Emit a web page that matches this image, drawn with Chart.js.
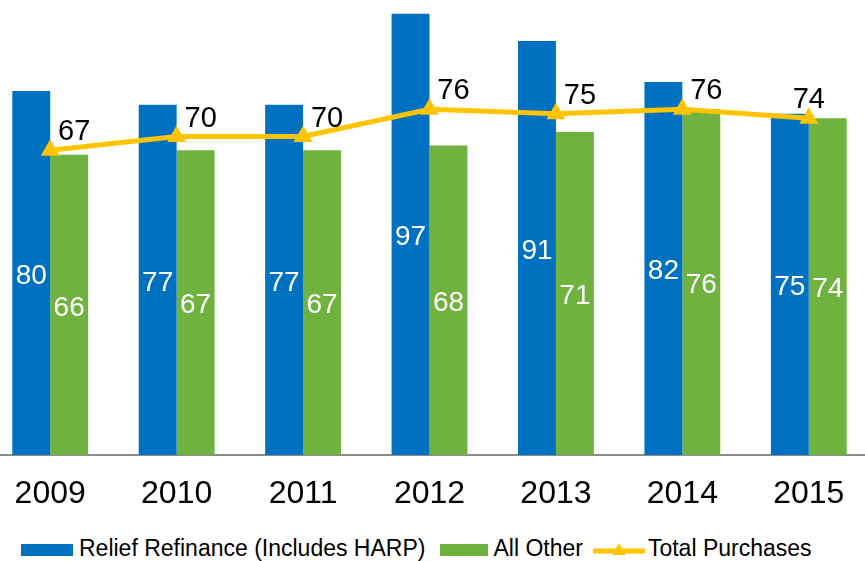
<!DOCTYPE html>
<html>
<head>
<meta charset="utf-8">
<script src="https://cdn.jsdelivr.net/npm/chart.js@4"></script>
<style>
  body { margin: 0; background: #fff; width: 865px; height: 561px; overflow: hidden; position: relative; font-family: Arial, "Liberation Sans", sans-serif; }
  #wrap { position: absolute; left: -13px; top: 0; width: 885px; height: 520px; }
  #legend { position: absolute; left: 21px; top: 535px; display: flex; align-items: center; font-size: 23px; color: #000; white-space: nowrap; }
  .box { display: inline-block; height: 12px; margin-top: 3px; }
  .item { display: flex; align-items: center; }
</style>
</head>
<body>
<div id="wrap"><canvas id="chart"></canvas></div>
<div id="legend"></div>
<script>
const years = ['2009', '2010', '2011', '2012', '2013', '2014', '2015'];
const reliefRefinance = [80, 77, 77, 97, 91, 82, 75];
const allOther = [66, 67, 67, 68, 71, 76, 74];
const totalPurchases = [67, 70, 70, 76, 75, 76, 74];

const seriesNames = ['Relief Refinance (Includes HARP)', 'All Other', 'Total Purchases'];
const BLUE = '#0070C0';
const GREEN = '#6FB23F';
const YELLOW = '#FFC400';

// draws the numbers on bars and above the line points
const valueLabels = {
  id: 'valueLabels',
  afterDatasetsDraw(chart) {
    const ctx = chart.ctx;
    ctx.save();
    ctx.textBaseline = 'middle';
    ctx.textAlign = 'center';
    chart.data.datasets.forEach((ds, di) => {
      const meta = chart.getDatasetMeta(di);
      meta.data.forEach((el, i) => {
        const v = ds.data[i];
        if (ds.type === 'line') {
          ctx.fillStyle = '#000';
          ctx.font = '29px Arial, "Liberation Sans"';
          const dx = i === meta.data.length - 1 ? 0 : 24;
          ctx.fillText(v, el.x + dx, el.y - 18);
        } else {
          ctx.fillStyle = '#fff';
          ctx.font = '28px Arial, "Liberation Sans"';
          ctx.fillText(v, el.x, (el.y + el.base) / 2 + 3);
        }
      });
    });
    ctx.restore();
  }
};

const ctx = document.getElementById('chart').getContext('2d');
new Chart(ctx, {
  data: {
    labels: years,
    datasets: [
      {
        type: 'line',
        label: seriesNames[2],
        data: totalPurchases,
        borderColor: YELLOW,
        backgroundColor: YELLOW,
        borderWidth: 5,
        pointStyle: 'triangle',
        pointRadius: 11,
        pointBorderWidth: 0,
        tension: 0,
        order: 0
      },
      {
        type: 'bar',
        label: seriesNames[0],
        data: reliefRefinance,
        backgroundColor: BLUE,
        categoryPercentage: 0.6,
        barPercentage: 1.0,
        order: 1
      },
      {
        type: 'bar',
        label: seriesNames[1],
        data: allOther,
        backgroundColor: GREEN,
        categoryPercentage: 0.6,
        barPercentage: 1.0,
        order: 1
      }
    ]
  },
  options: {
    responsive: true,
    maintainAspectRatio: false,
    animation: false,
    layout: { padding: 0, autoPadding: false },
    plugins: {
      legend: { display: false },
      tooltip: { enabled: false }
    },
    scales: {
      x: {
        grid: { display: false, drawTicks: false },
        border: { color: '#8c8c8c', width: 2 },
        ticks: { color: '#000', font: { size: 32, family: 'Arial, "Liberation Sans"' }, padding: 20 },
        afterFit(scale) { scale.height = 65; }
      },
      y: {
        display: false,
        min: 0,
        max: 100
      }
    }
  },
  plugins: [valueLabels]
});

// legend below the chart
const legend = document.getElementById('legend');
legend.innerHTML = `
  <span class="item"><span class="box" style="width:52px;background:${BLUE};margin-right:6px"></span>${seriesNames[0]}</span>
  <span class="item" style="margin-left:15px"><span class="box" style="width:48px;background:${GREEN};margin-right:5px"></span>${seriesNames[1]}</span>
  <span class="item" style="margin-left:10px">
    <svg width="52" height="20" style="margin-right:3px;margin-top:3px">
      <line x1="1" y1="11" x2="51" y2="11" stroke="${YELLOW}" stroke-width="5" stroke-linecap="round"/>
      <polygon points="26,3 33,15 19,15" fill="${YELLOW}"/>
    </svg>${seriesNames[2]}</span>`;
</script>
</body>
</html>
